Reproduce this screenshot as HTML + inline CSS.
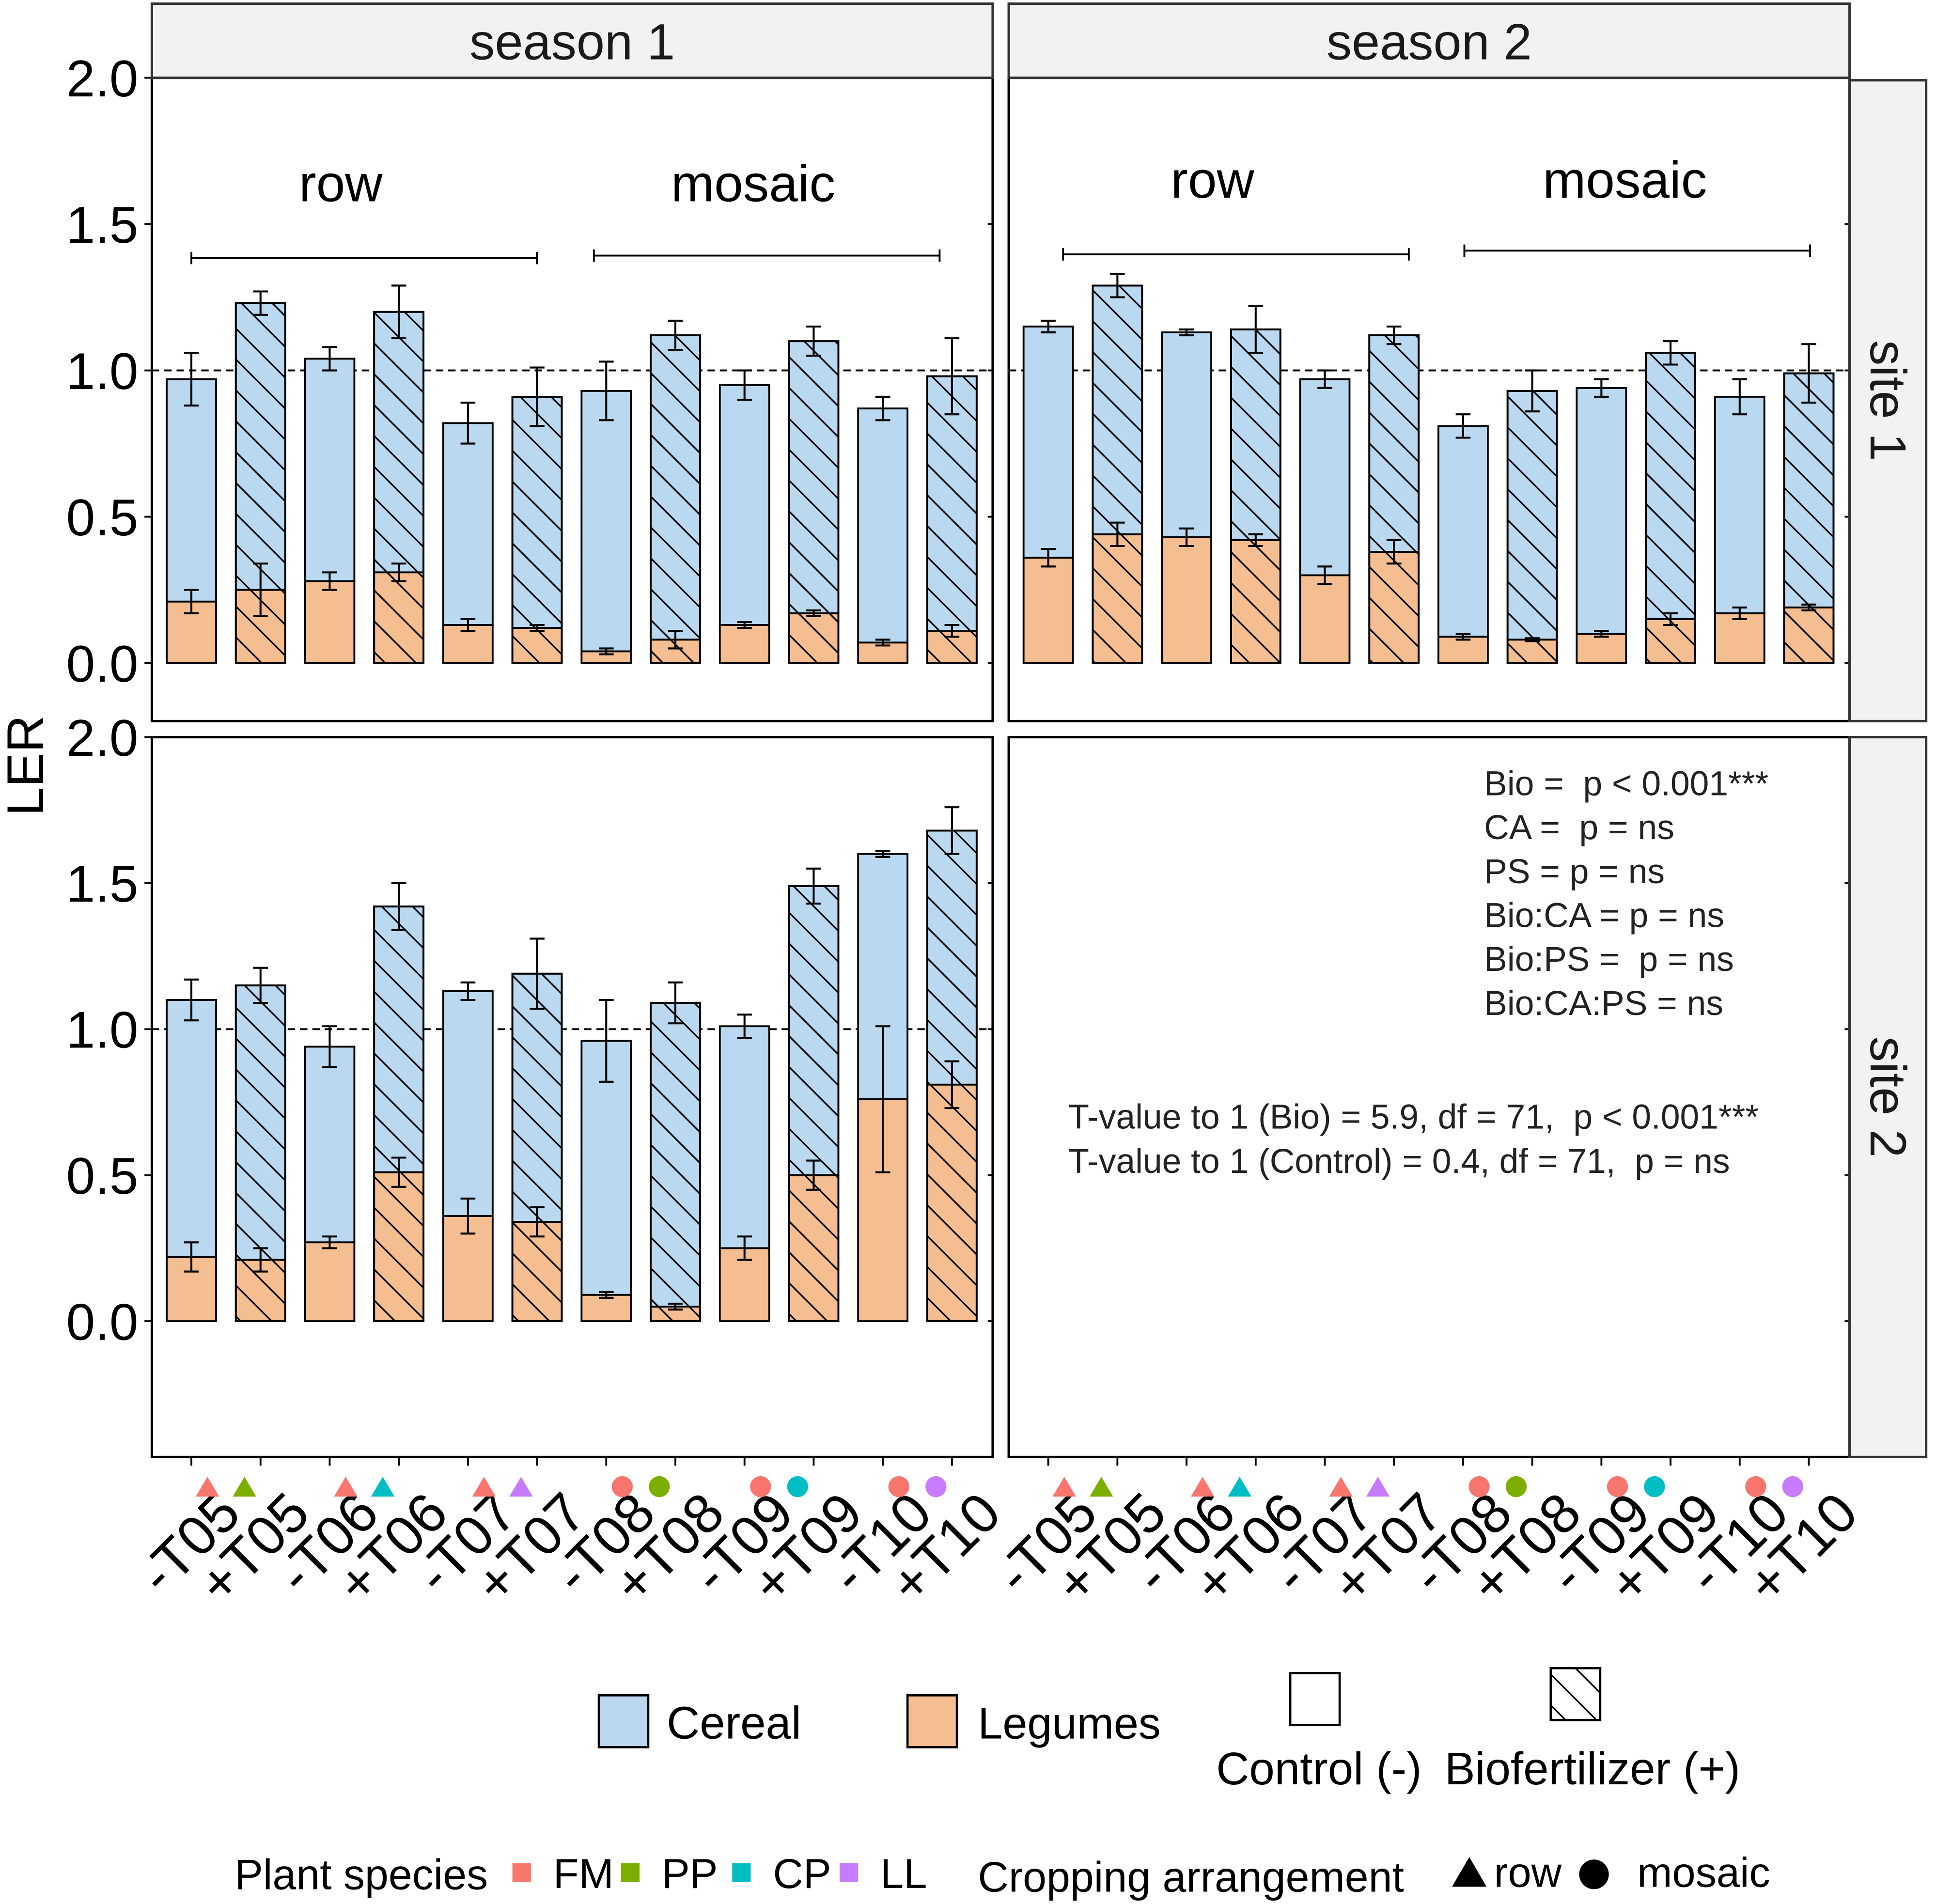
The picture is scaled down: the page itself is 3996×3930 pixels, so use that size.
<!DOCTYPE html>
<html><head><meta charset="utf-8">
<style>
html,body{margin:0;padding:0;background:#fff;}
svg{display:block;font-family:"Liberation Sans",sans-serif;}
text{white-space:pre;}
</style></head>
<body>
<svg id="chart" width="3996" height="3930" viewBox="0 0 1568 1542" preserveAspectRatio="none" xmlns="http://www.w3.org/2000/svg">
<defs>
<pattern id="hatch" patternUnits="userSpaceOnUse" width="25" height="25">
<path d="M-5,-5 L30,30 M-30,-5 L5,30 M20,-5 L55,30" stroke="#000" stroke-width="1.3" fill="none"/>
</pattern>
</defs>
<g id="root"></g>
</svg>
<script>
// ----- data -----
const categories = ["-T05","+T05","-T06","+T06","-T07","+T07","-T08","+T08","-T09","+T09","-T10","+T10"];
const s1site1Total = [0.97,1.23,1.04,1.20,0.82,0.91,0.93,1.12,0.95,1.10,0.87,0.98];
const s1site1TotalErr = [0.09,0.04,0.04,0.09,0.07,0.10,0.10,0.05,0.05,0.05,0.04,0.13];
const s1site1Leg = [0.21,0.25,0.28,0.31,0.13,0.12,0.04,0.08,0.13,0.17,0.07,0.11];
const s1site1LegErr = [0.04,0.09,0.03,0.03,0.02,0.01,0.01,0.03,0.01,0.01,0.01,0.02];
const s2site1Total = [1.15,1.29,1.13,1.14,0.97,1.12,0.81,0.93,0.94,1.06,0.91,0.99];
const s2site1TotalErr = [0.02,0.04,0.01,0.08,0.03,0.03,0.04,0.07,0.03,0.04,0.06,0.10];
const s2site1Leg = [0.36,0.44,0.43,0.42,0.30,0.38,0.09,0.08,0.10,0.15,0.17,0.19];
const s2site1LegErr = [0.03,0.04,0.03,0.02,0.03,0.04,0.01,0.005,0.01,0.02,0.02,0.01];
const s1site2Total = [1.10,1.15,0.94,1.42,1.13,1.19,0.96,1.09,1.01,1.49,1.60,1.68];
const s1site2TotalErr = [0.07,0.06,0.07,0.08,0.03,0.12,0.14,0.07,0.04,0.06,0.01,0.08];
const s1site2Leg = [0.22,0.21,0.27,0.51,0.36,0.34,0.09,0.05,0.25,0.50,0.76,0.81];
const s1site2LegErr = [0.05,0.04,0.02,0.05,0.06,0.05,0.01,0.01,0.04,0.05,0.25,0.08];
const yTicks = [0.0,0.5,1.0,1.5,2.0];
const yTickLabels = ["0.0","0.5","1.0","1.5","2.0"];
const pairSpecies = ["PP","CP","LL","PP","CP","LL"];
const pairShape = ["row","row","row","mosaic","mosaic","mosaic"];
const speciesColors = {FM:"#F8766D",PP:"#7CAE00",CP:"#00BFC4",LL:"#C77CFF"};

const NS="http://www.w3.org/2000/svg";
const root=document.getElementById('root');
function el(tag,attrs,parent,text){const e=document.createElementNS(NS,tag);for(const k in attrs)e.setAttribute(k,attrs[k]);if(text!==undefined)e.textContent=text;(parent||root).appendChild(e);return e;}

const CEREAL="#BAD9F1", LEG="#F5BE91";
const panels=[
 {name:"season1-site1",x0:123,x1:804,y0:63,y1:584,zero:537,top:63,tot:s1site1Total,te:s1site1TotalErr,leg:s1site1Leg,le:s1site1LegErr,axis:true,by:[209,207],bx:[[155,435],[481,761]],lx:[276,610],ly:163},
 {name:"season2-site1",x0:817,x1:1498,y0:63,y1:584,zero:537,top:63,tot:s2site1Total,te:s2site1TotalErr,leg:s2site1Leg,le:s2site1LegErr,axis:false,by:[206,203],bx:[[861,1141],[1186,1466]],lx:[982,1316],ly:160},
 {name:"season1-site2",x0:123,x1:804,y0:597,y1:1180,zero:1070,top:597,tot:s1site2Total,te:s1site2TotalErr,leg:s1site2Leg,le:s1site2LegErr,axis:true},
 {name:"season2-site2",x0:817,x1:1498,y0:597,y1:1180,zero:1070,top:597,tot:null,axis:false}
];
function xScale(p,i){return p.x0+32+56*i;}
function yScale(p,v){return p.zero-(p.zero-p.top)/2*v;}

panels.forEach(p=>{
 const g=el('g',{},root);
 
 
 if(p.tot){
  const d=el('line',{x1:p.x0,x2:p.x1,y1:yScale(p,1),y2:yScale(p,1),stroke:"#000","stroke-width":1.5,"stroke-dasharray":"6,4"},g);
  
  
  p.tot.forEach((t,i)=>{
   const cx=xScale(p,i), w=40, hatched=i%2===1;
   const yt=yScale(p,t), yl=yScale(p,p.leg[i]), y0=yScale(p,0);
   const c=el('rect',{x:cx-w/2,y:yt,width:w,height:yl-yt,fill:CEREAL,stroke:"#000","stroke-width":1.5},g);
   
   
   const l=el('rect',{x:cx-w/2,y:yl,width:w,height:y0-yl,fill:LEG,stroke:"#000","stroke-width":1.5},g);
   
   
   if(hatched){
    const h=el('rect',{x:cx-w/2,y:yt,width:w,height:y0-yt,fill:"url(#hatch)",stroke:"#000","stroke-width":1.5},g);
    
    
   }
   [[t,p.te[i]],[p.leg[i],p.le[i]]].forEach(([v,e],k)=>{
    const a=yScale(p,v+e), b=yScale(p,v-e);
    const eb=el('path',{d:`M${cx-6},${a}H${cx+6}M${cx},${a}V${b}M${cx-6},${b}H${cx+6}`,stroke:"#000","stroke-width":1.6,fill:"none"},g);
    
    
   });
  });
  if(p.by){
   ["row","mosaic"].forEach((lab,k)=>{
    const [x1,x2]=p.bx[k], yy=p.by[k];
    const br=el('path',{d:`M${x1},${yy-5}V${yy+5}M${x1},${yy}H${x2}M${x2},${yy-5}V${yy+5}`,stroke:"#000","stroke-width":1.5,fill:"none"},g);
    
    
    const tx=el('text',{x:p.lx[k],y:p.ly,"text-anchor":"middle","font-size":42},g,lab);
    
    
   });
  }
 }
 const fr=el('rect',{x:p.x0,y:p.y0,width:p.x1-p.x0,height:p.y1-p.y0,fill:"none",stroke:"#000","stroke-width":2},g);
 
 
 yTicks.forEach((v,k)=>{
  const y=yScale(p,v);
  const rt=el('line',{x1:p.x1-4,x2:p.x1,y1:y,y2:y,stroke:"#000","stroke-width":1.5},g);
  
  
  if(p.axis){
   const t=el('line',{x1:p.x0-6,x2:p.x0,y1:y,y2:y,stroke:"#000","stroke-width":1.5},g);
   
   
   const tl=el('text',{x:p.x0-11,y:y+15,"text-anchor":"end","font-size":42},g,yTickLabels[k]);
   
   
  }
 });
});

[[123,804,"season 1"],[817,1498,"season 2"]].forEach(([a,b,t])=>{
 const r=el('rect',{x:a,y:3,width:b-a,height:60,fill:"#F2F2F2",stroke:"#333","stroke-width":2});
 
 
 const tx=el('text',{x:(a+b)/2,y:48,"text-anchor":"middle","font-size":41,fill:"#1a1a1a"},root,t);
 
 
});
[[65,584,"site 1"],[597,1180,"site 2"]].forEach(([a,b,t])=>{
 const r=el('rect',{x:1498,y:a,width:62,height:b-a,fill:"#F2F2F2",stroke:"#333","stroke-width":2});
 
 
 const c=(a+b)/2;
 const tx=el('text',{x:1515,y:c,"text-anchor":"middle","font-size":41,fill:"#1a1a1a",transform:`rotate(90 1515 ${c})`},root,t);
 
 
});
const yt=el('text',{x:35,y:620,"text-anchor":"middle","font-size":42,transform:"rotate(-90 35 620)"},root,"LER");



[123,817].forEach(x0=>{
 const p={x0:x0};
 categories.forEach((c,i)=>{
  const cx=xScale(p,i);
  const t=el('line',{x1:cx,x2:cx,y1:1180,y2:1187,stroke:"#000","stroke-width":1.5});
  
  
  const lx=cx+42, ly=1228;
  const tl=el('text',{x:lx,y:ly,"text-anchor":"end","font-size":45,transform:`rotate(-45 ${lx} ${ly})`},root,c);
  
  
 });
 for(let k=0;k<6;k++){
  const mid=(xScale(p,2*k)+xScale(p,2*k+1))/2;
  [["FM",mid-15],[pairSpecies[k],mid+15]].forEach(([sp,x])=>{
   let m;
   if(pairShape[k]==="row") m=el('path',{d:`M${x},1196 L${x+9.5},1212 L${x-9.5},1212Z`,fill:speciesColors[sp]});
   else m=el('circle',{cx:x,cy:1204,r:8.5,fill:speciesColors[sp]});
   
   
  });
 }
});

const ann=["Bio =  p < 0.001***","CA =  p = ns","PS = p = ns","Bio:CA = p = ns","Bio:PS =  p = ns","Bio:CA:PS = ns"];
ann.forEach((a,k)=>{
 const t=el('text',{x:1202,y:644+k*35.6,"font-size":28,fill:"#222"},root,a);
 
 
});
["T-value to 1 (Bio) = 5.9, df = 71,  p < 0.001***","T-value to 1 (Control) = 0.4, df = 71,  p = ns"].forEach((a,k)=>{
 const t=el('text',{x:865,y:914+k*36,"font-size":28,fill:"#222"},root,a);
 
 
});

function legRect(x,y,fill,name,h){const r=el('rect',{x:x,y:y,width:40,height:42,fill:fill,stroke:"#000","stroke-width":1.8});if(h){const q=el('rect',{x:x,y:y,width:40,height:42,fill:"url(#hatch)",stroke:"#000","stroke-width":1.8});}}
function legText(x,y,t,name,fs){const e=el('text',{x:x,y:y,"font-size":fs||37},root,t);}
legRect(485,1373,CEREAL,'legend-cereal-key');
legText(540,1408,"Cereal",'legend-cereal-label');
legRect(735,1373,LEG,'legend-legumes-key');
legText(792,1408,"Legumes",'legend-legumes-label',36);
legRect(1045,1355,"#fff",'legend-control-key');
legText(985,1445,"Control (-)",'legend-control-label');
legRect(1256,1351,"#fff",'legend-biofertilizer-key',true);
legText(1170,1445,"Biofertilizer (+)",'legend-biofertilizer-label');
legText(190,1530,"Plant species",'legend-species-title',34.5);
[["FM",415],["PP",503],["CP",593],["LL",680]].forEach(([sp,x])=>{
 const r=el('rect',{x:x,y:1509,width:15,height:15,fill:speciesColors[sp]});
 
 
 legText(x+33,1529,sp,'legend-'+sp+'-label',34);
});
legText(792,1532,"Cropping arrangement",'legend-arrangement-title',34.5);
const tri=el('path',{d:"M1190,1504 L1204,1528 L1176,1528Z",fill:"#000"});


legText(1210,1528,"row",'legend-row-label',34);
const ci=el('circle',{cx:1291,cy:1518,r:12,fill:"#000"});


legText(1326,1528,"mosaic",'legend-mosaic-label',34);
</script>
</body></html>
